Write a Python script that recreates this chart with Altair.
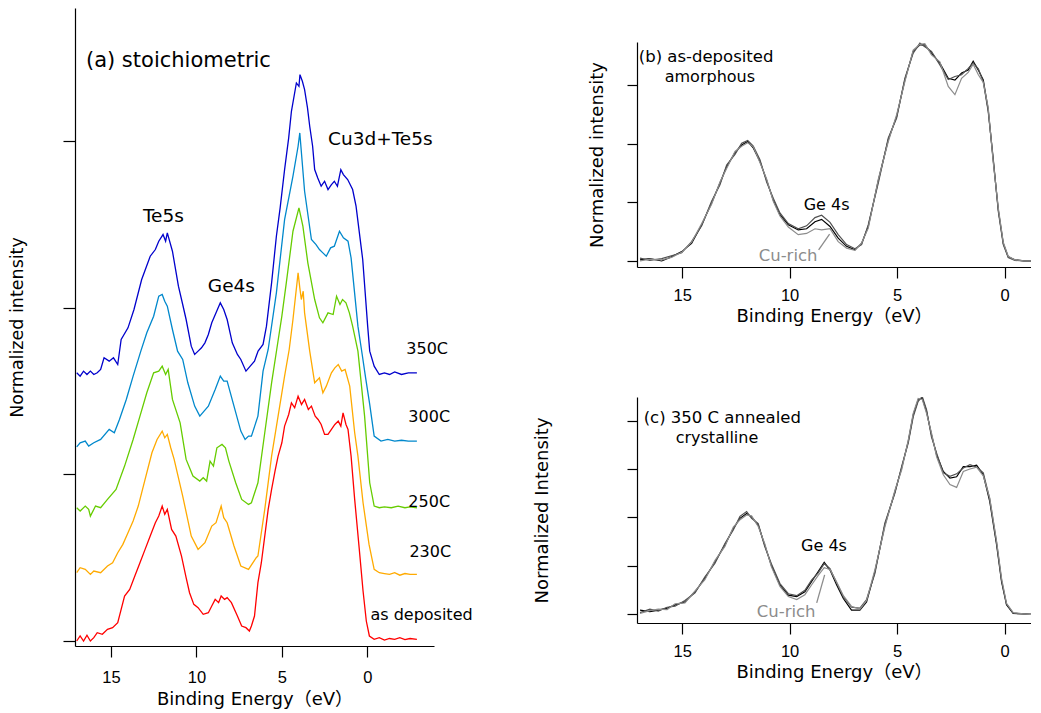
import altair as alt
import pandas as pd

FONT = "DejaVu Sans, Noto Sans CJK JP"
TICKFONT = "Liberation Sans"

# ---------------- panel (a): stoichiometric, offset spectra ----------------
a_names = ["as deposited", "230C", "250C", "300C", "350C"]
a_colors = ["#ff0000", "#ffaa00", "#66cc00", "#0088cc", "#0000cc"]

a_dep_x = [17.0, 16.8, 16.6, 16.4, 16.2, 16.0, 15.8, 15.5, 15.2, 14.9, 14.6, 14.2, 13.9, 13.6, 13.3, 13.0,
           12.7, 12.4, 12.2, 12.0, 11.85, 11.7, 11.45, 11.2, 10.87, 10.6, 10.4, 10.15, 9.9, 9.6, 9.3, 9.1,
           8.9, 8.7, 8.55, 8.35, 8.2, 7.95, 7.6, 7.35, 7.1, 6.9, 6.78, 6.6, 6.4, 6.2, 6.0, 5.8, 5.6, 5.4,
           5.22, 5.0, 4.84, 4.6, 4.44, 4.25, 4.05, 3.85, 3.67, 3.45, 3.27, 3.05, 2.88, 2.7, 2.5, 2.3, 2.1,
           1.9, 1.7, 1.55, 1.42, 1.25, 1.13, 0.95, 0.74, 0.47, 0.25, 0.06, -0.12, -0.4, -0.7, -1.0, -1.3,
           -1.6, -1.9, -2.2, -2.5, -2.9]
a_dep_y = [0.0, 0.03, 0.0, 0.035, 0.0, 0.02, 0.05, 0.04, 0.07, 0.08, 0.11, 0.27, 0.31, 0.39, 0.47, 0.55,
           0.63, 0.71, 0.75, 0.81, 0.76, 0.79, 0.67, 0.63, 0.51, 0.38, 0.29, 0.22, 0.20, 0.16, 0.17, 0.21,
           0.25, 0.23, 0.27, 0.25, 0.26, 0.23, 0.15, 0.09, 0.08, 0.06, 0.09, 0.15, 0.35, 0.47, 0.63, 0.79,
           0.91, 1.02, 1.11, 1.19, 1.29, 1.36, 1.43, 1.40, 1.47, 1.42, 1.45, 1.39, 1.41, 1.35, 1.33, 1.30,
           1.24, 1.24, 1.27, 1.30, 1.32, 1.29, 1.37, 1.30, 1.27, 1.11, 0.85, 0.55, 0.30, 0.12, 0.03, 0.01,
           0.02, 0.005, 0.015, 0.01, 0.02, 0.008, 0.015, 0.01]

a_230_x = [17.0, 16.8, 16.5, 16.2, 16.0, 15.6, 15.2, 14.9, 14.6, 14.3, 14.0, 13.7, 13.4, 13.0, 12.6,
           12.3, 12.0, 11.85, 11.7, 11.5, 11.3, 10.8, 10.3, 9.9, 9.5, 9.1, 8.85, 8.7, 8.55, 8.4, 8.2, 7.8,
           7.4, 6.95, 6.5, 6.4, 6.0, 5.6, 5.22, 4.84, 4.57, 4.35, 4.05, 3.95, 3.86, 3.75, 3.67, 3.37, 3.08,
           2.8, 2.6, 2.4, 2.1, 1.9, 1.7, 1.5, 1.3, 1.03, 0.74, 0.55, 0.25, -0.1, -0.4, -0.7, -1.0, -1.3,
           -1.6, -1.9, -2.2, -2.5, -2.9]
a_230_y = [0.41, 0.44, 0.43, 0.40, 0.42, 0.41, 0.45, 0.47, 0.53, 0.58, 0.65, 0.72, 0.81, 0.97, 1.13,
           1.21, 1.26, 1.22, 1.24, 1.16, 1.09, 0.87, 0.63, 0.55, 0.59, 0.69, 0.71, 0.76, 0.81, 0.74, 0.71,
           0.57, 0.45, 0.43, 0.50, 0.51, 0.79, 1.11, 1.35, 1.59, 1.75, 1.93, 2.21, 2.12, 2.05, 2.10, 1.97,
           1.74, 1.55, 1.58, 1.49, 1.53, 1.61, 1.64, 1.66, 1.62, 1.63, 1.53, 1.25, 1.11, 0.83, 0.58, 0.43,
           0.41, 0.405, 0.40, 0.41, 0.395, 0.405, 0.40, 0.40]

a_250_x = [17.0, 16.8, 16.5, 16.3, 16.2, 15.9, 15.6, 15.2, 14.7, 14.2, 13.7, 13.3, 12.9, 12.5, 12.2,
           12.0, 11.8, 11.65, 11.4, 10.95, 10.6, 10.2, 9.8, 9.6, 9.4, 9.2, 9.0, 8.8, 8.5, 8.3, 8.1, 7.7,
           7.35, 6.95, 6.78, 6.4, 6.0, 5.6, 5.3, 5.0, 4.74, 4.35, 4.0, 3.77, 3.48, 3.08, 2.8, 2.6, 2.3, 2.0,
           1.8, 1.6, 1.45, 1.25, 1.05, 0.86, 0.55, 0.16, -0.14, -0.4, -0.7, -1.0, -1.4, -1.8, -2.2, -2.5,
           -2.9]
a_250_y = [0.80, 0.78, 0.81, 0.79, 0.75, 0.81, 0.80, 0.85, 0.91, 1.05, 1.21, 1.35, 1.49, 1.61, 1.62,
           1.65, 1.60, 1.63, 1.45, 1.31, 1.09, 0.99, 0.96, 0.98, 0.96, 1.08, 1.05, 1.16, 1.18, 1.16, 1.08,
           0.95, 0.85, 0.82, 0.83, 0.95, 1.25, 1.55, 1.75, 1.95, 2.15, 2.46, 2.60, 2.49, 2.27, 2.05, 1.94,
           1.91, 1.97, 1.96, 2.07, 2.02, 2.05, 2.03, 1.97, 1.89, 1.74, 1.35, 0.95, 0.81, 0.80, 0.805, 0.80,
           0.81, 0.80, 0.805, 0.80]

a_300_x = [17.0, 16.8, 16.5, 16.3, 16.0, 15.6, 15.1, 14.8, 14.5, 14.1, 13.7, 13.25, 12.9, 12.5, 12.2,
           12.0, 11.85, 11.7, 11.4, 11.1, 10.8, 10.5, 10.1, 9.8, 9.55, 9.3, 8.9, 8.6, 8.4, 8.2, 7.8, 7.4,
           7.15, 6.95, 6.78, 6.4, 6.1, 5.8, 5.32, 4.84, 4.35, 4.05, 3.95, 3.67, 3.27, 3.0, 2.8, 2.6, 2.4,
           2.15, 1.93, 1.63, 1.4, 1.13, 0.95, 0.55, 0.3, 0.1, -0.14, -0.4, -0.8, -1.2, -1.6, -2.0, -2.4,
           -2.9]
a_300_y = [1.165, 1.19, 1.20, 1.17, 1.19, 1.21, 1.27, 1.25, 1.33, 1.45, 1.59, 1.74, 1.85, 1.95, 2.07,
           2.08, 2.04, 2.01, 1.87, 1.74, 1.69, 1.55, 1.41, 1.35, 1.38, 1.41, 1.51, 1.59, 1.56, 1.56, 1.41,
           1.26, 1.21, 1.23, 1.23, 1.35, 1.62, 1.75, 2.09, 2.53, 2.79, 2.97, 3.05, 2.70, 2.41, 2.38, 2.35,
           2.33, 2.31, 2.36, 2.37, 2.46, 2.42, 2.40, 2.30, 1.89, 1.72, 1.58, 1.42, 1.23, 1.20, 1.21, 1.20,
           1.205, 1.20, 1.20]

a_350_x = [17.0, 16.8, 16.6, 16.4, 16.2, 16.0, 15.8, 15.6, 15.4, 15.1, 14.85, 14.6, 14.4, 14.0, 13.65,
           13.2, 12.7, 12.4, 12.2, 11.95, 11.8, 11.7, 11.4, 11.05, 10.8, 10.6, 10.3, 10.1, 9.9, 9.7, 9.5,
           9.3, 9.1, 8.85, 8.6, 8.4, 8.2, 7.9, 7.6, 7.4, 7.1, 6.85, 6.6, 6.39, 6.1, 5.9, 5.6, 5.32, 5.1,
           4.84, 4.6, 4.44, 4.15, 4.0, 3.94, 3.8, 3.67, 3.5, 3.37, 3.2, 3.08, 2.9, 2.7, 2.5, 2.3, 2.1, 1.93,
           1.75, 1.55, 1.4, 1.15, 0.86, 0.66, 0.27, -0.02, -0.14, -0.4, -0.7, -1.0, -1.3, -1.6, -2.0, -2.4,
           -2.9]
a_350_y = [1.61, 1.59, 1.62, 1.60, 1.62, 1.60, 1.61, 1.63, 1.70, 1.68, 1.70, 1.66, 1.81, 1.88, 1.99,
           2.17, 2.31, 2.35, 2.40, 2.44, 2.40, 2.45, 2.34, 2.13, 2.02, 1.93, 1.77, 1.72, 1.74, 1.76, 1.79,
           1.84, 1.91, 1.97, 2.03, 1.99, 1.93, 1.79, 1.72, 1.69, 1.62, 1.65, 1.68, 1.74, 1.78, 1.89, 2.15,
           2.43, 2.60, 2.83, 3.02, 3.18, 3.35, 3.33, 3.40, 3.36, 3.31, 3.20, 3.09, 2.97, 2.83, 2.78, 2.73,
           2.76, 2.71, 2.74, 2.76, 2.73, 2.83, 2.80, 2.77, 2.71, 2.61, 2.29, 1.89, 1.74, 1.65, 1.60, 1.61,
           1.60, 1.615, 1.60, 1.61, 1.61]

a_curves = [(a_dep_x, a_dep_y), (a_230_x, a_230_y), (a_250_x, a_250_y), (a_300_x, a_300_y), (a_350_x, a_350_y)]

a_lab_text = ["350C", "300C", "250C", "230C", "as deposited"]
a_lab_x = [-2.28, -2.4, -2.4, -2.46, -0.18]
a_lab_y = [1.75, 1.345, 0.835, 0.535, 0.156]

a_peak_text = ["Te5s", "Ge4s", "Cu3d+Te5s"]
a_peak_x = [11.93, 7.95, -0.76]
a_peak_y = [2.55, 2.13, 3.015]

a_title_text = ["(a) stoichiometric"]
a_title_x = [16.46]
a_title_y = [3.48]

# ---------------- panel (b): as-deposited amorphous ----------------
bc_names = ["sample 1", "sample 2", "Cu-rich"]
bc_colors = ["#000000", "#505050", "#8c8c8c"]

b_x = [16.96, 16.5, 15.95, 15.5, 15.02, 14.56, 14.09, 13.63, 13.24, 12.93, 12.54, 12.23, 11.95, 11.69,
       11.38, 11.07, 10.76, 10.45, 10.06, 9.6, 9.21, 8.82, 8.51, 8.12, 7.74, 7.35, 6.96, 6.65, 6.34, 5.87,
       5.41, 5.02, 4.64, 4.25, 3.94, 3.71, 3.40, 3.01, 2.62, 2.31, 2.0, 1.69, 1.46, 1.22, 0.99, 0.76, 0.53,
       0.29, 0.06, -0.17, -0.48, -0.9, -1.3]
b_black_y = [0.02, 0.04, 0.0, 0.07, 0.16, 0.30, 0.62, 0.99, 1.33, 1.61, 1.85, 1.98, 2.04, 1.93, 1.70,
             1.38, 1.04, 0.79, 0.62, 0.53, 0.55, 0.67, 0.71, 0.59, 0.39, 0.25, 0.19, 0.30, 0.59, 1.38, 2.07,
             2.47, 3.09, 3.58, 3.69, 3.69, 3.55, 3.38, 3.12, 3.09, 3.21, 3.26, 3.41, 3.26, 3.09, 2.58, 1.73,
             0.87, 0.30, 0.07, 0.02, 0.0, 0.0]
b_gray_y = [0.05, 0.01, 0.04, 0.09, 0.14, 0.33, 0.60, 1.02, 1.30, 1.64, 1.82, 2.01, 2.06, 1.96, 1.73,
            1.35, 1.07, 0.82, 0.64, 0.55, 0.60, 0.74, 0.78, 0.66, 0.45, 0.28, 0.21, 0.28, 0.62, 1.34, 2.10,
            2.44, 3.12, 3.55, 3.72, 3.66, 3.58, 3.35, 3.10, 3.15, 3.18, 3.29, 3.38, 3.28, 3.06, 2.55, 1.76,
            0.84, 0.28, 0.06, 0.01, 0.0, 0.0]
b_cu_y = [0.0, 0.03, 0.02, 0.06, 0.15, 0.32, 0.64, 0.97, 1.35, 1.58, 1.87, 1.96, 2.02, 1.95, 1.68, 1.40,
          1.02, 0.77, 0.58, 0.45, 0.47, 0.55, 0.53, 0.55, 0.33, 0.22, 0.18, 0.31, 0.56, 1.40, 2.04, 2.50,
          3.06, 3.60, 3.70, 3.71, 3.52, 3.40, 2.98, 2.84, 3.12, 3.22, 3.36, 3.18, 3.05, 2.62, 1.70, 0.90,
          0.32, 0.08, 0.02, 0.0, 0.0]

b_lab_text = ["(b) as-deposited", "amorphous"]
b_lab_x = [17.02, 15.81]
b_lab_y = [3.49, 3.15]
b_ge_x = [8.28]
b_ge_y = [0.96]
b_cu_lab_x = [10.07]
b_cu_lab_y = [0.085]
b_ptr = {"eV": [8.65], "I": [0.19], "eV2": [8.14], "I2": [0.46]}

# ---------------- panel (c): 350 C annealed crystalline ----------------
c_x = [16.96, 16.5, 16.11, 15.7, 15.33, 14.87, 14.4, 13.94, 13.47, 13.01, 12.62, 12.31, 12.0, 11.77,
       11.46, 11.16, 10.85, 10.45, 10.06, 9.67, 9.29, 8.98, 8.67, 8.39, 8.12, 7.81, 7.5, 7.12, 6.73, 6.42,
       6.03, 5.57, 5.1, 4.79, 4.48, 4.25, 4.02, 3.83, 3.63, 3.4, 3.16, 2.85, 2.54, 2.23, 1.92, 1.61, 1.3,
       0.99, 0.69, 0.37, 0.14, -0.09, -0.4, -0.94, -1.3]
c_black_y = [0.08, 0.05, 0.08, 0.12, 0.19, 0.25, 0.46, 0.74, 1.08, 1.43, 1.77, 1.98, 2.08, 2.01, 1.84,
             1.43, 1.01, 0.60, 0.39, 0.36, 0.46, 0.67, 0.88, 1.07, 0.91, 0.60, 0.32, 0.08, 0.08, 0.25, 0.88,
             1.84, 2.53, 3.02, 3.57, 4.12, 4.43, 4.47, 4.19, 3.71, 3.29, 2.95, 2.81, 2.84, 3.05, 3.05, 3.08,
             2.88, 2.33, 1.43, 0.67, 0.19, 0.01, 0.0, 0.01]
c_gray_y = [0.03, 0.10, 0.06, 0.14, 0.16, 0.28, 0.44, 0.77, 1.05, 1.46, 1.74, 2.02, 2.12, 1.98, 1.87,
            1.40, 1.04, 0.63, 0.42, 0.38, 0.49, 0.70, 0.85, 1.04, 0.94, 0.64, 0.36, 0.14, 0.12, 0.30, 0.84,
            1.88, 2.50, 3.05, 3.54, 4.08, 4.40, 4.50, 4.23, 3.66, 3.33, 2.92, 2.85, 2.90, 3.02, 3.09, 3.04,
            2.92, 2.38, 1.48, 0.70, 0.21, 0.02, 0.0, 0.01]
c_cu_y = [0.01, 0.07, 0.10, 0.09, 0.21, 0.23, 0.48, 0.71, 1.11, 1.40, 1.80, 1.95, 2.05, 2.03, 1.81, 1.46,
          0.98, 0.57, 0.36, 0.30, 0.40, 0.60, 0.80, 0.96, 0.92, 0.66, 0.38, 0.16, 0.10, 0.28, 0.92, 1.80,
          2.56, 2.98, 3.60, 4.15, 4.46, 4.44, 4.15, 3.75, 3.25, 2.88, 2.68, 2.62, 2.95, 3.00, 3.04, 2.86,
          2.40, 1.50, 0.74, 0.22, 0.03, 0.0, 0.01]

c_lab_text = ["(c) 350 C annealed", "crystalline"]
c_lab_x = [16.79, 15.3]
c_lab_y = [4.06, 3.64]
c_ge_x = [8.4]
c_ge_y = [1.41]
c_cu_lab_x = [10.16]
c_cu_lab_y = [0.04]
c_ptr = {"eV": [8.74], "I": [0.23], "eV2": [8.37], "I2": [0.81]}

XTITLE = "Binding Energy（eV）"


def long_df(names, curves):
    rows = []
    for name, (xs, ys) in zip(names, curves):
        for k, (xv, yv) in enumerate(zip(xs, ys)):
            rows.append({"eV": xv, "I": yv, "series": name, "k": k})
    return pd.DataFrame(rows)


def axis_x(label_pad, title_pad):
    return alt.Axis(values=[15, 10, 5, 0], title=XTITLE, grid=False, tickSize=11, tickWidth=1.2,
                    domainWidth=1.2, domainColor="black", tickColor="black", labelColor="black",
                    labelFont=TICKFONT, labelFontSize=16.5, labelPadding=label_pad, labelFlush=False,
                    titleFont=FONT, titleFontSize=18, titleFontWeight="normal", titleColor="black",
                    titlePadding=title_pad)


def axis_y(title, values, tick, title_pad, fs):
    return alt.Axis(values=values, labels=False, title=title, grid=False, tickSize=tick, tickWidth=1.2,
                    domainWidth=1.2, domainColor="black", tickColor="black", titleFont=FONT,
                    titleFontSize=fs, titleFontWeight="normal", titleColor="black", titlePadding=title_pad)


def encs(xdom, ydom, xax, yax):
    x = alt.X("eV:Q", scale=alt.Scale(domain=xdom, reverse=True, nice=False, zero=False), axis=xax)
    y = alt.Y("I:Q", scale=alt.Scale(domain=ydom, nice=False, zero=False), axis=yax)
    return x, y


def text_layer(xs, ys, texts, x, y, size, align="left", color="black"):
    df = pd.DataFrame({"eV": xs, "I": ys, "t": texts})
    return alt.Chart(df).mark_text(align=align, baseline="middle", font=FONT, fontSize=size,
                                   color=color).encode(x=x, y=y, text="t:N")


# ---- build (a)
xa, ya = encs([-3.9, 17.1], [-0.03, 3.8], axis_x(12, 5),
              axis_y("Normalized intensity", [0, 1, 2, 3], 12, 36, 17.5))
df_a = long_df(a_names, a_curves)
lines_a = alt.Chart(df_a).mark_line(strokeWidth=1.3, clip=True).encode(
    x=xa, y=ya,
    color=alt.Color("series:N", scale=alt.Scale(domain=a_names, range=a_colors), legend=None),
    order="k:Q")
chart_a = alt.layer(
    lines_a,
    text_layer(a_lab_x, a_lab_y, a_lab_text, xa, ya, 16),
    text_layer(a_peak_x, a_peak_y, a_peak_text, xa, ya, 18.5, align="center"),
    text_layer(a_title_x, a_title_y, a_title_text, xa, ya, 21),
).properties(width=359, height=638)


def side_panel(xs, ys_list, ytitle, yvals, ydom, height, title_pad, labs, ge, cu, ptr):
    xb, yb = encs([-1.23, 17.1], ydom, axis_x(9, 4), axis_y(ytitle, yvals, 10, title_pad, 18))
    df = long_df(bc_names, [(xs, ys) for ys in ys_list])
    lines = alt.Chart(df).mark_line(strokeWidth=1.2, clip=True).encode(
        x=xb, y=yb,
        color=alt.Color("series:N", scale=alt.Scale(domain=bc_names, range=bc_colors), legend=None),
        order="k:Q")
    rule = alt.Chart(pd.DataFrame(ptr)).mark_rule(color="#8c8c8c", strokeWidth=1.3).encode(
        x=xb, y=yb, x2="eV2:Q", y2="I2:Q")
    layers = [
        lines,
        rule,
        text_layer(labs[0][:1], labs[1][:1], labs[2][:1], xb, yb, 16.5),
        text_layer(labs[0][1:], labs[1][1:], labs[2][1:], xb, yb, 16),
        text_layer(ge[0], ge[1], ["Ge 4s"], xb, yb, 16, align="center"),
        text_layer(cu[0], cu[1], ["Cu-rich"], xb, yb, 16.5, align="center", color="#8c8c8c"),
    ]
    return alt.layer(*layers).properties(width=394, height=height)


chart_b = side_panel(b_x, [b_black_y, b_gray_y, b_cu_y], "Normalized intensity", [0, 1, 2, 3],
                     [-0.103, 3.74], 225, 20, (b_lab_x, b_lab_y, b_lab_text), (b_ge_x, b_ge_y),
                     (b_cu_lab_x, b_cu_lab_y), b_ptr)
chart_c = side_panel(c_x, [c_black_y, c_gray_y, c_cu_y], "Normalized Intensity", [0, 1, 2, 3, 4],
                     [-0.186, 4.49], 226, 75, (c_lab_x, c_lab_y, c_lab_text), (c_ge_x, c_ge_y),
                     (c_cu_lab_x, c_cu_lab_y), c_ptr)

# invisible spacer that pushes panel (b) down relative to panel (a)
spacer = alt.Chart(pd.DataFrame({"s": [0]})).mark_point(opacity=0, size=1).encode(
    x=alt.X("s:Q", axis=None), y=alt.Y("s:Q", axis=None)).properties(width=10, height=14)

right = alt.vconcat(spacer, alt.vconcat(chart_b, chart_c, spacing=71), spacing=20)
chart = alt.hconcat(chart_a, right, spacing=60).resolve_scale(color="independent").properties(
    padding=0, background="white").configure_view(stroke=None)

chart.save("out.html", embed_options={"renderer": "svg", "actions": False})
